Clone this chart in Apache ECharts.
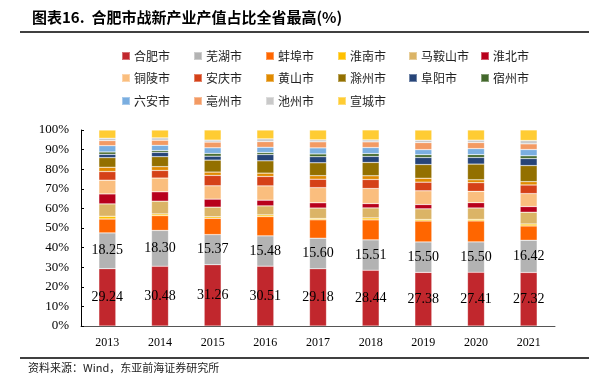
<!DOCTYPE html>
<html>
<head>
<meta charset="utf-8">
<script src="https://cdn.jsdelivr.net/npm/echarts@6/dist/echarts.min.js"></script>
<style>html,body{margin:0;padding:0;background:#fff;}#c{width:589px;height:388px;}</style>
</head>
<body>
<div id="c"></div>
<script>
var years = ['2013','2014','2015','2016','2017','2018','2019','2020','2021'];
var cities = ['合肥市','芜湖市','蚌埠市','淮南市','马鞍山市','淮北市','铜陵市','安庆市','黄山市','滁州市','阜阳市','宿州市','六安市','亳州市','池州市','宣城市'];
var hefei    = [29.24, 30.48, 31.26, 30.51, 29.18, 28.44, 27.38, 27.41, 27.32];
var wuhu     = [18.25, 18.30, 15.37, 15.48, 15.60, 15.51, 15.50, 15.50, 16.42];
var bengbu   = [7.1, 7.5, 8.3, 9.8, 9.4, 10.2, 10.7, 10.7, 7.3];
var huainan  = [1.4, 0.9, 0.8, 0.9, 0.7, 1.0, 0.8, 0.8, 1.0];
var maanshan = [6.3, 6.5, 4.9, 4.6, 5.3, 5.1, 5.4, 5.8, 6.0];
var huaibei  = [5.1, 4.8, 4.1, 2.9, 2.7, 2.2, 2.2, 2.7, 2.9];
var tongling = [7.0, 7.0, 6.8, 7.3, 7.7, 7.7, 7.0, 5.8, 6.6];
var anqing   = [4.4, 3.9, 5.3, 4.8, 4.3, 4.6, 4.4, 4.4, 4.4];
var huangshan= [2.2, 1.9, 1.7, 1.7, 1.8, 1.9, 2.0, 1.5, 1.7];
var chuzhou  = [4.9, 5.1, 6.1, 6.3, 6.6, 6.8, 7.0, 8.0, 8.2];
var fuyang   = [1.7, 2.2, 2.0, 3.2, 3.1, 3.1, 3.6, 3.4, 3.6];
var suzhou   = [1.2, 0.9, 1.4, 1.0, 1.4, 1.4, 1.4, 1.4, 1.4];
var luan     = [3.2, 2.7, 2.9, 2.7, 3.1, 3.1, 2.6, 3.1, 3.2];
var bozhou   = [2.6, 2.6, 2.9, 2.9, 3.1, 2.9, 3.6, 3.1, 2.9];
var chizhou  = [1.2, 1.2, 1.0, 1.4, 1.0, 1.0, 1.2, 1.2, 1.7];
var xuancheng= [4.2, 4.0, 5.2, 4.5, 5.0, 5.1, 5.2, 5.2, 5.4];
var yTicks = ['0%','10%','20%','30%','40%','50%','60%','70%','80%','90%','100%'];

var seriesData = [hefei, wuhu, bengbu, huainan, maanshan, huaibei, tongling, anqing, huangshan, chuzhou, fuyang, suzhou, luan, bozhou, chizhou, xuancheng];
var colors = ['#C1272D','#B3B3B3','#FF6600','#FFC000','#DBB466','#B8001C','#FABE7E','#D54118','#E08A00','#937000','#264478','#43682B','#7AAEE0','#F39A63','#C9C9C9','#FFCC33'];

var series = cities.map(function(name, i){
  var s = {
    name: name, type: 'bar', stack: 'total', data: seriesData[i],
    barWidth: 17,
    itemStyle: { color: colors[i], borderColor: 'rgba(255,255,255,0.35)', borderWidth: 0.6 }
  };
  if (i < 2) {
    s.label = { show: true, position: 'inside', color: '#000', fontFamily: 'Liberation Serif', fontSize: 14,
      formatter: function(p){ return p.value.toFixed(2); } };
  }
  return s;
});

var legendCols = [116, 188, 260, 332, 403, 475];
var legendRows = [45, 67, 90];
var legends = cities.map(function(name, i){
  return {
    data: [name], left: legendCols[i % 6], top: legendRows[Math.floor(i / 6)],
    icon: 'rect', itemWidth: 8, itemHeight: 8, itemGap: 0,
    textStyle: { fontFamily: 'Noto Sans CJK SC', fontSize: 12, color: '#222', padding: [0,0,0,-1] },
    selectedMode: false
  };
});

var chart = echarts.init(document.getElementById('c'), null, {renderer: 'canvas'});
chart.setOption({
  animation: false,
  color: colors,
  legend: legends,
  grid: { left: 81, right: 34, top: 130, bottom: 62 },
  xAxis: {
    type: 'category', data: years,
    axisLine: { lineStyle: { color: '#555', width: 1 } },
    axisTick: { show: false },
    axisLabel: { color: '#000', fontFamily: 'Liberation Serif', fontSize: 12, margin: 11 }
  },
  yAxis: {
    type: 'value', min: 0, max: 100, interval: 10,
    axisLine: { show: true, lineStyle: { color: '#000', width: 1 } },
    axisTick: { show: true, inside: true, length: 3, lineStyle: { color: '#000' } },
    splitLine: { show: false },
    axisLabel: { color: '#000', fontFamily: 'Liberation Serif', fontSize: 13, margin: 12,
      formatter: function(v){ return yTicks[Math.round(v / 10)]; } }
  },
  graphic: [
    { type: 'text', left: 32, top: 10, style: { text: '图表16.  合肥市战新产业产值占比全省最高(%)', font: 'bold 15px "Noto Sans CJK SC"', fill: '#000' } },
    { type: 'line', shape: { x1: 20, y1: 32, x2: 589, y2: 32 }, style: { stroke: '#000', lineWidth: 1.5 } },
    { type: 'line', shape: { x1: 20, y1: 358, x2: 589, y2: 358 }, style: { stroke: '#000', lineWidth: 1.5 } },
    { type: 'text', left: 28, top: 362, style: { text: '资料来源：Wind，东亚前海证券研究所', font: '11px "Noto Sans CJK SC"', fill: '#222' } }
  ],
  series: series
});
</script>
</body>
</html>
